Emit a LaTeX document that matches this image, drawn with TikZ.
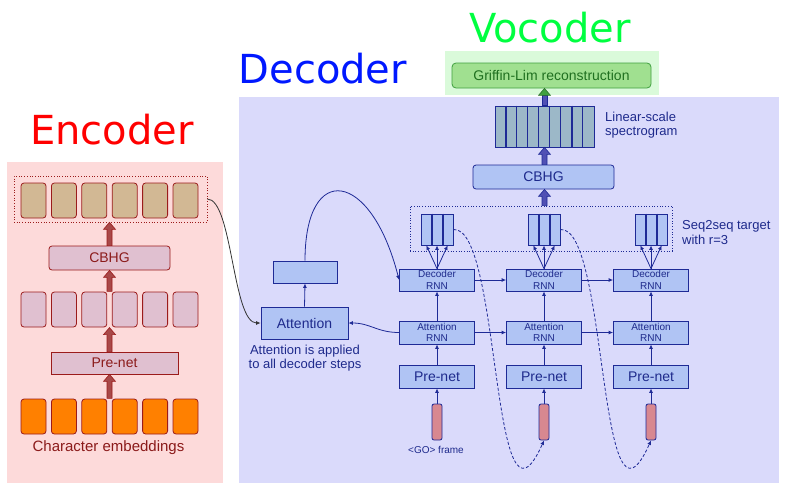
\documentclass[tikz,border=0pt]{standalone}
\usepackage{fontspec}
\setmainfont{Liberation Sans}
\newfontfamily\titlefont{DejaVu Sans}
\usetikzlibrary{arrows.meta,calc,fit}
\definecolor{encbg}{HTML}{FDDADA}
\definecolor{decbg}{HTML}{DADAFB}
\definecolor{vocbg}{HTML}{DAFADA}
\definecolor{encborder}{HTML}{9B1B1B}
\definecolor{enctext}{HTML}{8B1A1A}
\definecolor{tanfill}{HTML}{D2B894}
\definecolor{mauve}{HTML}{E0C0D0}
\definecolor{orangefill}{HTML}{FF8000}
\definecolor{encarrow}{HTML}{A84848}
\definecolor{decfill}{HTML}{B0C4F4}
\definecolor{decborder}{HTML}{1E2A96}
\definecolor{dectext}{HTML}{1E2A8C}
\definecolor{decarrow}{HTML}{5050B4}
\definecolor{specfill}{HTML}{9CB8C8}
\definecolor{grfill}{HTML}{A0E090}
\definecolor{grborder}{HTML}{40A040}
\definecolor{grtext}{HTML}{207020}
\definecolor{gofill}{HTML}{D88890}
\definecolor{enctitle}{HTML}{FF0000}
\definecolor{dectitle}{HTML}{0018FF}
\definecolor{voctitle}{HTML}{00FF40}
\newcommand\fatarrow[4]{%
  \filldraw[fill=#1,draw=#2,line width=0.6pt,line join=miter]
    ($#3+(-2.5,0)$) -- ($#4+(-2.5,7)$) -- ($#4+(-6,7)$) -- #4 --
    ($#4+(6,7)$) -- ($#4+(2.5,7)$) -- ($#3+(2.5,0)$) -- cycle;}
\tikzset{
  ebox/.style={draw=encborder, line width=0.8pt, rounded corners=3pt,
    minimum width=25pt, minimum height=35pt, inner sep=0pt},
  elabel/.style={draw=encborder, fill=mauve, line width=0.8pt, inner sep=0pt,
    text=enctext, font=\fontsize{14}{16}\selectfont},
  dbox/.style={draw=decborder, fill=decfill, line width=0.8pt, inner sep=0pt,
    text=dectext},
  rnn/.style={dbox, minimum width=75pt, align=center,
    font=\fontsize{10}{11.5}\selectfont},
  pren/.style={dbox, minimum width=75pt, minimum height=23pt,
    font=\fontsize{14}{16}\selectfont},
  gobar/.style={draw=decborder, fill=gofill, line width=0.8pt,
    rounded corners=2pt, minimum width=10pt, minimum height=36pt, inner sep=0pt},
  cell/.style={draw=decborder, fill=decfill, line width=0.8pt,
    minimum width=10.67pt, minimum height=31pt, inner sep=0pt},
  arr/.style={draw=decborder, line width=0.8pt, -{Latex[length=4.5pt,width=4pt]}},
  dtext/.style={text=dectext, inner sep=0pt, font=\fontsize{13}{15}\selectfont},
  title/.style={anchor=base west, inner sep=0pt,
    font=\titlefont\fontsize{40}{40}\selectfont},
}
\begin{document}
\begin{tikzpicture}[x=1pt,y=-1pt]
\useasboundingbox (0,0) rectangle (786,490);
% backgrounds
\fill[encbg] (7,162) rectangle (223,483);
\fill[decbg] (239,97) rectangle (779,483);
\fill[vocbg] (445,51) rectangle (659,95);
% titles
\node[title, text=enctitle] (tenc) at (30,144) {Encoder};
\node[title, text=dectitle] (tdec) at (238.5,83) {Decoder};
\node[title, text=voctitle] (tvoc) at (469,42) {Vocoder};

% ---------------- Encoder ----------------
\foreach \i in {0,...,5} {
  \node[ebox, fill=tanfill] (t\i) at (33.5+30.4*\i,200.5) {};
  \node[ebox, fill=mauve] (m\i) at (33.5+30.4*\i,309.5) {};
  \node[ebox, fill=orangefill] (o\i) at (33.5+30.4*\i,416.5) {};
}
\node[draw=encborder, dotted, line width=0.7pt, minimum width=193pt,
  minimum height=46pt, inner sep=0pt] (encout) at (110.5,199) {};
\node[inner sep=0pt, fit=(m0)(m5)] (mrow) {};
\node[inner sep=0pt, fit=(o0)(o5)] (orow) {};
\node[elabel, rounded corners=3pt, minimum width=121pt, minimum height=24pt]
  (ecbhg) at (109.5,258) {CBHG};
\node[elabel, minimum width=127pt, minimum height=22pt]
  (eprenet) at (114.5,363) {Pre-net};
\node[anchor=base, inner sep=0pt, text=enctext,
  font=\fontsize{15}{17}\selectfont] (charemb) at (108.5,451) {Character embeddings};
\fatarrow{encarrow}{encborder}{(orow.north)}{(orow.north |- eprenet.south)}
\fatarrow{encarrow}{encborder}{(orow.north |- eprenet.north)}{(mrow.south)}
\fatarrow{encarrow}{encborder}{(mrow.north)}{(mrow.north |- ecbhg.south)}
\fatarrow{encarrow}{encborder}{(mrow.north |- ecbhg.north)}{(mrow.north |- encout.south)}

% ---------------- Decoder ----------------
\node[dbox, minimum width=87pt, minimum height=32pt,
  font=\fontsize{14}{16}\selectfont] (att) at (304.5,323) {Attention};
\node[dbox, minimum width=64pt, minimum height=22pt] (ctx) at (305,272) {};
\node[dtext, anchor=base] (note1) at (305,354) {Attention is applied};
\node[dtext, anchor=base] (note2) at (305,368) {to all decoder steps};

\foreach \j/\cx in {1/437,2/544,3/651} {
  \node[rnn, minimum height=22pt] (drnn\j) at (\cx,280) {Decoder\\RNN};
  \node[rnn, minimum height=23pt] (arnn\j) at (\cx,332.5) {Attention\\RNN};
  \node[pren] (pre\j) at (\cx,376.5) {Pre-net};
  \node[gobar] (go\j) at (\cx,422) {};
  \node[cell] (s\j a) at (\cx-10.67,229.5) {};
  \node[cell] (s\j b) at (\cx,229.5) {};
  \node[cell] (s\j c) at (\cx+10.67,229.5) {};
  \draw[decborder, line width=1.8pt] (s\j a.north east) -- (s\j a.south east);
  \draw[decborder, line width=1.8pt] (s\j b.north east) -- (s\j b.south east);
  \draw[arr] (go\j.north) -- (pre\j.south);
  \draw[arr] (pre\j.north) -- (arnn\j.south);
  \draw[arr] (arnn\j.north) -- (drnn\j.south);
  \draw[arr] (drnn\j.north) -- (s\j a.south);
  \draw[arr] (drnn\j.north) -- (s\j b.south);
  \draw[arr] (drnn\j.north) -- (s\j c.south);
}
\draw[arr] (drnn1.east) -- (drnn2.west);
\draw[arr] (drnn2.east) -- (drnn3.west);
\draw[arr] (arnn1.east) -- (arnn2.west);
\draw[arr] (arnn2.east) -- (arnn3.west);
\node[dtext, anchor=base, font=\fontsize{10}{12}\selectfont] (golab) at (436,453) {<GO> frame};

\node[draw=decborder, dotted, line width=0.7pt, minimum width=262pt,
  minimum height=45pt, inner sep=0pt] (seqbox) at (541,228.5) {};
\node[dtext, anchor=base west] (seq1) at (682,229) {Seq2seq target};
\node[dtext, anchor=base west] (seq2) at (682,244) {with r=3};

\node[dbox, rounded corners=3pt, minimum width=141pt, minimum height=24pt,
  font=\fontsize{14}{16}\selectfont] (dcbhg) at (543.5,177) {CBHG};
\node[draw=decborder, fill=specfill, line width=0.8pt, minimum width=99pt,
  minimum height=41pt, inner sep=0pt] (spec) at (544.5,126.5) {};
\foreach \i in {1,...,8} {
  \pgfmathsetmacro\lw{(\i==1 || \i==7) ? 1.8 : 0.8}
  \draw[decborder, line width=\lw pt] ($(spec.north west)+(11*\i,0)$) -- ($(spec.south west)+(11*\i,0)$);
}
\node[dtext, anchor=base west] (lin1) at (605,121) {Linear-scale};
\node[dtext, anchor=base west] (lin2) at (605,135) {spectrogram};

\node[draw=grborder, fill=grfill, line width=0.8pt, rounded corners=4pt,
  minimum width=199pt, minimum height=25pt, inner sep=0pt, text=grtext,
  font=\fontsize{14}{16}\selectfont] (griffin) at (551.5,75.5) {Griffin-Lim reconstruction};

\fatarrow{decarrow}{decborder}{(seqbox.north -| spec.north)}{(dcbhg.south -| spec.north)}
\fatarrow{decarrow}{decborder}{(dcbhg.north -| spec.north)}{(spec.south)}
% spectrogram -> Griffin-Lim: blue shaft, green head
\filldraw[fill=decarrow, draw=decborder, line width=0.6pt]
  ($(spec.north)+(-2.5,0)$) rectangle ($(spec.north |- griffin.south)+(2.5,7)$);
\filldraw[fill=grborder, draw=grborder!70!black, line width=0.6pt]
  ($(spec.north |- griffin.south)+(-6,7)$) -- (spec.north |- griffin.south)
  -- ($(spec.north |- griffin.south)+(6,7)$) -- cycle;

% curved connectors
\draw[arr, draw=black!80] (encout.east) .. controls +(25,0) and +(-28,0) .. (att.west);
\draw[arr] (att.north) -- (ctx.south);
\draw[arr] (ctx.north) .. controls +(0,-100) and +(-28,-110) .. (drnn1.west);
\draw[arr] (arnn1.west) .. controls +(-22,0) and +(22,0) .. (att.east);
\draw[arr, dash pattern=on 3pt off 2pt] (s1c.east) .. controls +(48,-4) and +(-53,119) .. (go2.south);
\draw[arr, dash pattern=on 3pt off 2pt] (s2c.east) .. controls +(48,-4) and +(-53,119) .. (go3.south);
\end{tikzpicture}
\end{document}
